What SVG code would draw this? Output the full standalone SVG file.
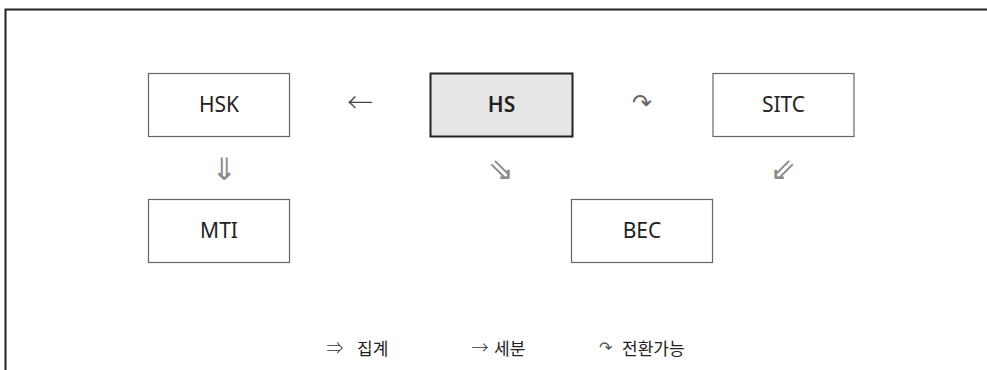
<svg xmlns="http://www.w3.org/2000/svg" width="987" height="370" viewBox="0 0 987 370">
  <style>
    .box { fill: #ffffff; stroke: #666666; stroke-width: 1.2; }
    .main { fill: #e6e6e6; stroke: #222222; stroke-width: 2; }
    .lbl { font-family: "Noto Sans", "Liberation Sans", sans-serif; font-size: 21px; fill: #222222; text-anchor: middle; }
    .bold { font-weight: 600; }
    .sym { font-family: "DejaVu Sans", sans-serif; font-size: 31px; fill: #8a8a8a; text-anchor: middle; }
    .thin { font-family: "Noto Sans CJK KR", "DejaVu Sans", sans-serif; font-weight: 300; font-size: 26px; fill: #444444; text-anchor: middle; }
    .leg { font-family: "Noto Sans CJK KR", sans-serif; font-size: 17px; fill: #222222; }
    .legsym { font-family: "Noto Sans CJK KR", "DejaVu Sans", sans-serif; font-weight: 300; font-size: 17px; fill: #333333; text-anchor: middle; }
  </style>
  <rect width="987" height="370" fill="#ffffff"/>
  <path d="M5.5,370 V9.5 H987" fill="none" stroke="#222222" stroke-width="2"/>

  <g id="node-hsk">
    <rect class="box" x="148.5" y="73.5" width="141" height="63"/>
    <text class="lbl" x="219" y="112">HSK</text>
  </g>
  <g id="node-hs">
    <rect class="main" x="430.5" y="73.5" width="142" height="63"/>
    <text class="lbl bold" x="501.5" y="112">HS</text>
  </g>
  <g id="node-sitc">
    <rect class="box" x="713" y="73.5" width="141" height="63"/>
    <text class="lbl" x="783.5" y="112">SITC</text>
  </g>
  <g id="node-mti">
    <rect class="box" x="148.5" y="199.5" width="141" height="63"/>
    <text class="lbl" x="219" y="238">MTI</text>
  </g>
  <g id="node-bec">
    <rect class="box" x="571.5" y="199.5" width="141" height="63"/>
    <text class="lbl" x="642" y="238">BEC</text>
  </g>

  <g id="connectors">
    <text class="thin" x="360" y="112">←</text>
    <text class="sym" x="642" y="111" style="font-size:24px;fill:#666666">↷</text>
    <text class="sym" x="224.5" y="180">⇓</text>
    <text class="sym" x="501" y="180">⇘</text>
    <text class="sym" x="783" y="180">⇙</text>
  </g>

  <g id="legend">
    <text class="legsym" x="335" y="354">⇒</text>
    <text class="leg" x="357" y="355">집계</text>
    <text class="legsym" x="480" y="354">→</text>
    <text class="leg" x="494" y="355">세분</text>
    <text class="legsym" x="605" y="353" style="font-family:'DejaVu Sans';font-size:16px;fill:#555555">↷</text>
    <text class="leg" x="622" y="355">전환가능</text>
  </g>
</svg>
